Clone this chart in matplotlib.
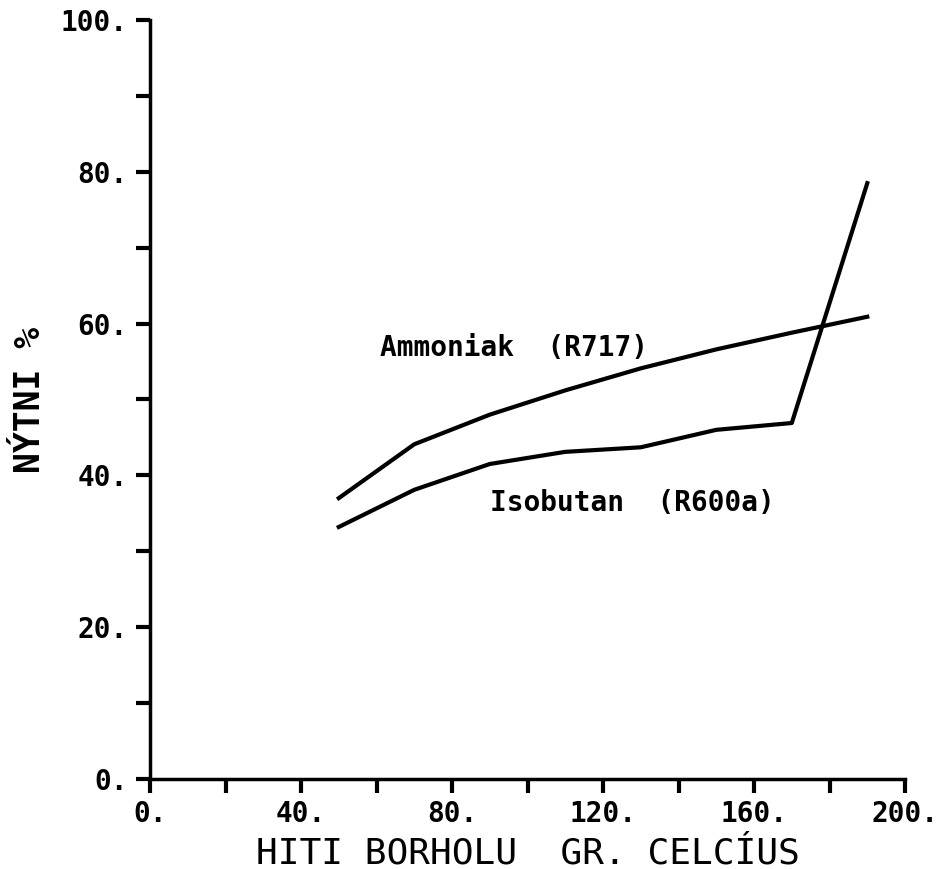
import matplotlib
matplotlib.use("Agg")
import matplotlib.pyplot as plt
from matplotlib.ticker import MultipleLocator

# borehole temperature (deg C) and efficiency (%)
temp = [50, 70, 90, 110, 130, 150, 170, 190]
ammoniak = [37.0, 44.1, 48.0, 51.2, 54.1, 56.6, 58.8, 60.9]
isobutan = [33.2, 38.1, 41.5, 43.1, 43.7, 46.0, 46.9, 78.5]

xticks = [0, 40, 80, 120, 160, 200]
yticks = [0, 20, 40, 60, 80, 100]

mono = "DejaVu Sans Mono"

fig = plt.figure(figsize=(9.4, 8.69), dpi=100)
ax = fig.add_axes([0.1596, 0.1036, 0.8032, 0.8734])

ax.plot(temp, ammoniak, color="black", lw=3, solid_joinstyle="round")
ax.plot(temp, isobutan, color="black", lw=3, solid_joinstyle="round")

ax.text(61, 56.8, "Ammoniak  (R717)", family=mono, weight="bold", fontsize=20,
        va="center", ha="left")
ax.text(90, 36.4, "Isobutan  (R600a)", family=mono, weight="bold", fontsize=20,
        va="center", ha="left")

ax.set_xlim(0, 200)
ax.set_ylim(0, 100)
ax.set_xticks(xticks)
ax.set_yticks(yticks)
ax.set_xticklabels([f"{v}." for v in xticks], family=mono, weight="bold", fontsize=20)
ax.set_yticklabels([f"{v}." for v in yticks], family=mono, weight="bold", fontsize=20)
ax.xaxis.set_minor_locator(MultipleLocator(20))
ax.yaxis.set_minor_locator(MultipleLocator(10))
ax.tick_params(which="both", direction="out", length=10, width=3, color="black")
ax.tick_params(axis="x", which="major", pad=5)
ax.tick_params(axis="y", which="major", pad=6)

for s in ["top", "right"]:
    ax.spines[s].set_visible(False)
for s in ["left", "bottom"]:
    ax.spines[s].set_linewidth(2.5)

ax.set_xlabel("HITI BORHOLU  GR. CELCÍUS", family=mono, fontsize=26, labelpad=6)
ax.set_ylabel("NÝTNI %", family=mono, weight="bold", fontsize=25, labelpad=10)

fig.savefig("out.png", dpi=100)
